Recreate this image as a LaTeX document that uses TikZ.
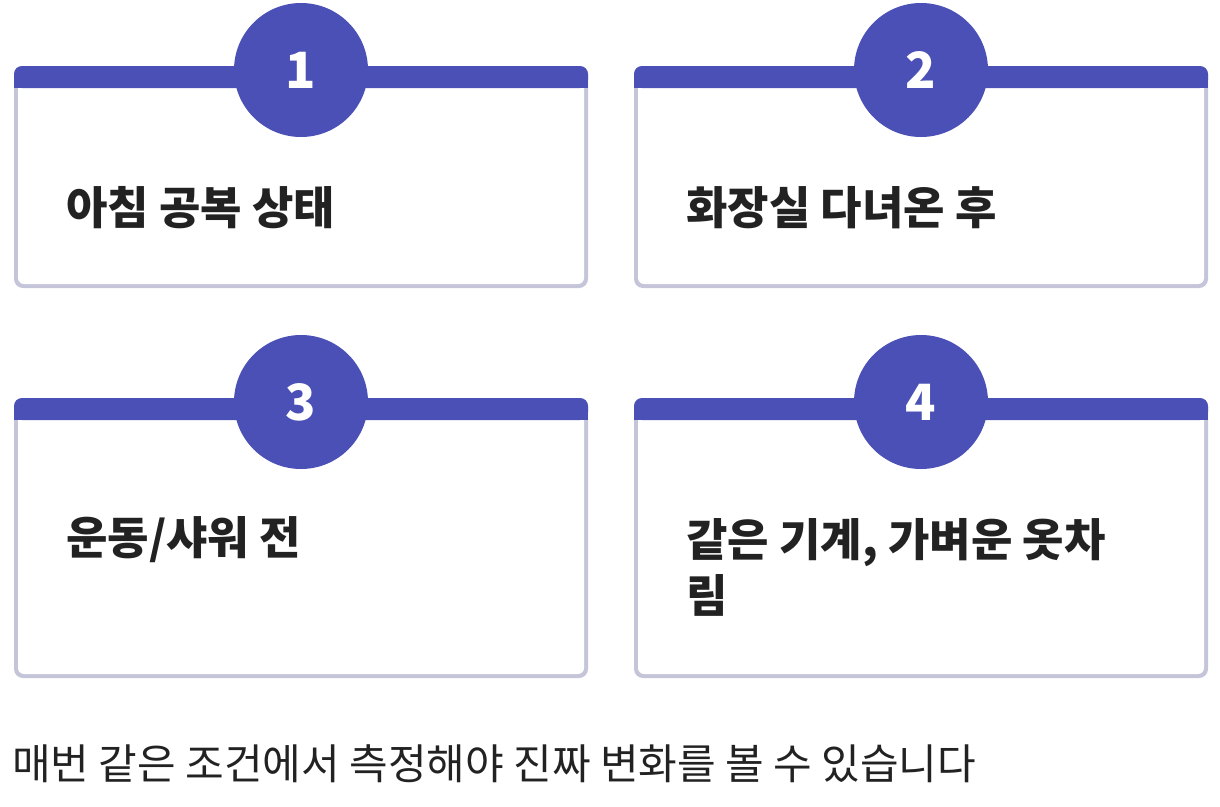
\documentclass[tikz,border=0pt]{standalone}
\usepackage{fontspec}
\newfontfamily\kr[BoldFont={Noto Sans CJK KR Black}]{Noto Sans CJK KR}
\definecolor{cblue}{HTML}{4A50B5}
\definecolor{cborder}{HTML}{C5C5DA}
\definecolor{ctext}{HTML}{222222}
\tikzset{
 cardtext/.style={anchor=west,font=\kr\bfseries\fontsize{45}{56}\selectfont,text=ctext,align=left,inner sep=0},
 numcircle/.style={circle,fill=cblue,minimum size=134pt,inner sep=0,text=white,font=\kr\bfseries\fontsize{50}{50}\selectfont}
}
% #1 x, #2 y, #3 number, #4 text, #5 name, #6 text y offset, #7 height
\newcommand{\mycard}[7]{%
 \fill[cborder,rounded corners=9pt] (#1,#2) rectangle (#1+574,#2+#7);
 \fill[white,rounded corners=6pt] (#1+4,#2+10) rectangle (#1+570,#2+#7-4);
 \fill[cblue,rounded corners=8pt] (#1,#2) rectangle (#1+574,#2+22);
 \fill[cblue] (#1,#2+10) rectangle (#1+574,#2+22);
 \node[numcircle] (#5) at (#1+287,#2+4) {#3};
 \node[cardtext] (#5t) at (#1+52,#2+#6) {#4};
}
\begin{document}
\begin{tikzpicture}[x=1pt,y=-1pt]
\useasboundingbox (0,0) rectangle (1220,806);
\mycard{14}{66}{1}{아침 공복 상태}{n1}{142}{222}
\mycard{634}{66}{2}{화장실 다녀온 후}{n2}{142}{222}
\mycard{14}{398}{3}{운동/샤워 전}{n3}{142}{280}
\mycard{634}{398}{4}{같은 기계, 가벼운 옷차\\림}{n4}{169}{280}
\node[anchor=west,inner sep=0,font=\kr\fontsize{42}{42}\selectfont,text=ctext] (foot) at (12,764) {매번 같은 조건에서 측정해야 진짜 변화를 볼 수 있습니다};
\end{tikzpicture}
\end{document}
